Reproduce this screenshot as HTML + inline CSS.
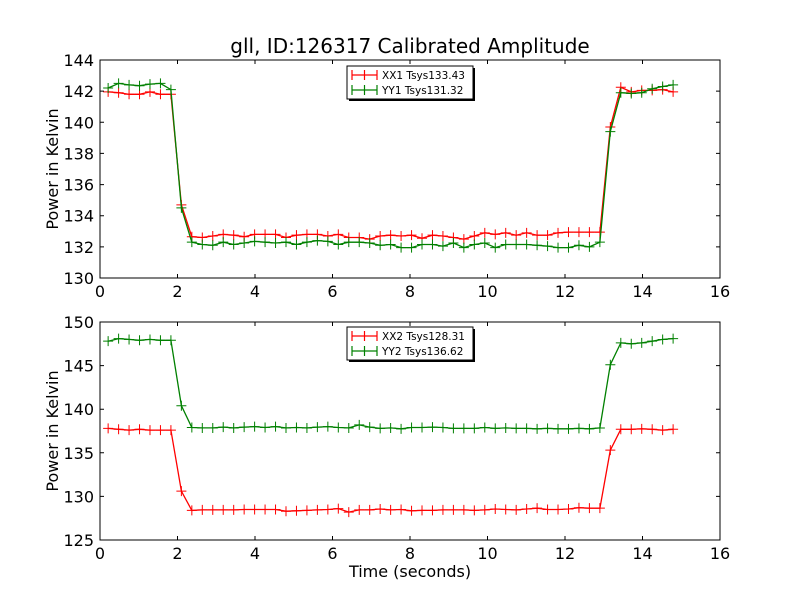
<!DOCTYPE html>
<html><head><meta charset="utf-8"><style>
body{margin:0;background:#fff;}
svg{display:block;font-family:"DejaVu Sans","Liberation Sans",sans-serif;}
</style></head><body>
<svg id="chart" width="800" height="600" viewBox="0 0 800 600">
<rect width="800" height="600" fill="#fff"/>
<text x="410" y="53" font-size="20" text-anchor="middle">gll, ID:126317 Calibrated Amplitude</text>
</svg>
<script>
const times = [0.21,0.48,0.75,1.02,1.29,1.56,1.83,2.10,2.37,2.64,2.91,3.18,3.45,3.72,3.99,4.26,4.53,4.80,5.07,5.34,5.61,5.88,6.15,6.42,6.69,6.96,7.23,7.50,7.77,8.04,8.31,8.58,8.85,9.12,9.39,9.66,9.93,10.20,10.47,10.74,11.01,11.28,11.55,11.82,12.09,12.36,12.63,12.90,13.17,13.44,13.71,13.98,14.25,14.52,14.79];
const xx1 = [141.95,141.9,141.8,141.8,141.95,141.8,141.8,134.7,132.65,132.6,132.7,132.8,132.75,132.65,132.8,132.8,132.8,132.6,132.75,132.8,132.8,132.7,132.8,132.6,132.6,132.5,132.7,132.75,132.7,132.75,132.55,132.75,132.7,132.6,132.5,132.7,132.9,132.8,132.9,132.75,132.9,132.75,132.75,132.9,132.95,132.95,132.95,132.95,139.7,142.25,141.95,142.05,142.05,142.1,141.95];
const yy1 = [142.2,142.5,142.4,142.35,142.45,142.5,142.1,134.5,132.3,132.15,132.1,132.3,132.15,132.25,132.35,132.3,132.25,132.3,132.15,132.3,132.4,132.35,132.15,132.3,132.3,132.25,132.1,132.15,131.95,131.95,132.15,132.15,132.05,132.25,131.95,132.15,132.25,131.95,132.15,132.15,132.15,132.1,132.05,131.95,131.95,132.1,132.0,132.3,139.4,141.9,141.85,141.9,142.15,142.3,142.4];
const xx2 = [137.8,137.7,137.6,137.7,137.6,137.6,137.6,130.6,128.4,128.45,128.45,128.45,128.45,128.5,128.5,128.5,128.5,128.3,128.35,128.4,128.45,128.5,128.6,128.2,128.45,128.45,128.55,128.45,128.5,128.35,128.4,128.4,128.45,128.45,128.45,128.4,128.45,128.55,128.5,128.45,128.55,128.65,128.5,128.5,128.55,128.7,128.65,128.65,135.3,137.7,137.7,137.75,137.7,137.6,137.7];
const yy2 = [147.8,148.1,148.0,147.9,148.0,147.9,147.9,140.4,137.9,137.85,137.85,137.95,137.85,137.95,138.0,137.9,138.0,137.85,137.9,137.85,137.95,138.0,137.9,137.85,138.2,137.95,137.8,137.85,137.75,137.9,137.9,137.95,137.9,137.8,137.8,137.8,137.9,137.8,137.85,137.8,137.8,137.75,137.8,137.75,137.75,137.8,137.75,137.85,145.1,147.6,147.5,147.6,147.8,148.0,148.1];
const xTicks = [0,2,4,6,8,10,12,14,16];
const yTicksTop = [130,132,134,136,138,140,142,144];
const yTicksBot = [125,130,135,140,145,150];
const legendTop = ["XX1 Tsys133.43","YY1 Tsys131.32"];
const legendBot = ["XX2 Tsys128.31","YY2 Tsys136.62"];

const NS="http://www.w3.org/2000/svg";
const svg=document.getElementById('chart');
function mk(tag,attrs,parent){const e=document.createElementNS(NS,tag);for(const k in attrs)e.setAttribute(k,attrs[k]);(parent||svg).appendChild(e);return e;}

function panel(name,top,bottom,ymin,ymax,yTicks,series,colors,labels,legendY,showXLabel){
  const L=100,R=720;
  const g=mk('g',{});
  
  
  const xs=v=>L+(v-0)/(16-0)*(R-L);
  const ys=v=>bottom-(v-ymin)/(ymax-ymin)*(bottom-top);
  series.forEach((vals,si)=>{
    const sg=mk('g',{},g);
    
    
    let d='';
    vals.forEach((v,i)=>{d+=(i?'L':'M')+xs(times[i]).toFixed(1)+' '+ys(v).toFixed(1);});
    const p=mk('path',{d:d,fill:'none',stroke:colors[si],'stroke-width':1.3},sg);
    
    
    vals.forEach((v,i)=>{
      const x=xs(times[i]),y=ys(v);
      const m=mk('path',{d:`M${x-5} ${y}H${x+5}M${x} ${y-5}V${y+5}`,stroke:colors[si],'stroke-width':1},sg);
      
      
    });
  });
  const fr=mk('rect',{x:L,y:top,width:R-L,height:bottom-top,fill:'none',stroke:'#000','stroke-width':1},g);
  
  
  xTicks.forEach(t=>{
    const x=xs(t);
    mk('path',{d:`M${x} ${bottom}v-4M${x} ${top}v4`,stroke:'#000'},g);
    const tx=mk('text',{x:x,y:bottom+19,'font-size':16,'text-anchor':'middle'},g);
    tx.textContent=t;
    
    
  });
  yTicks.forEach(t=>{
    const y=ys(t);
    mk('path',{d:`M${L} ${y}h4M${R} ${y}h-4`,stroke:'#000'},g);
    const tx=mk('text',{x:L-6,y:y+6,'font-size':16,'text-anchor':'end'},g);
    tx.textContent=t;
    
    
  });
  const yl=mk('text',{x:0,y:0,'font-size':16,'text-anchor':'middle',transform:`translate(58 ${(top+bottom)/2}) rotate(-90)`},g);
  yl.textContent='Power in Kelvin';
  
  
  if(showXLabel){
    const xl=mk('text',{x:410,y:577,'font-size':16,'text-anchor':'middle'},g);
    xl.textContent='Time (seconds)';
    
    
  }
  const lg=mk('g',{},g);
  
  
  mk('rect',{x:349,y:legendY+2,width:126,height:33,fill:'#000'},lg);
  mk('rect',{x:347,y:legendY,width:126,height:33,fill:'#fff',stroke:'#000'},lg);
  labels.forEach((lab,i)=>{
    const y=legendY+9+i*15;
    const e=mk('g',{},lg);
    
    
    mk('path',{d:`M352 ${y}h25M364.5 ${y-5}v10M352 ${y-5}v10M377 ${y-5}v10`,stroke:colors[i],'stroke-width':1.2},e);
    const t=mk('text',{x:382,y:y+4,'font-size':10.5},e);
    t.textContent=lab;
  });
}
panel('top-panel',60,278,130,144,yTicksTop,[xx1,yy1],['#ff0000','#008000'],legendTop,66,false);
panel('bottom-panel',322,540,125,150,yTicksBot,[xx2,yy2],['#ff0000','#008000'],legendBot,327,true);
</script>
</body></html>
